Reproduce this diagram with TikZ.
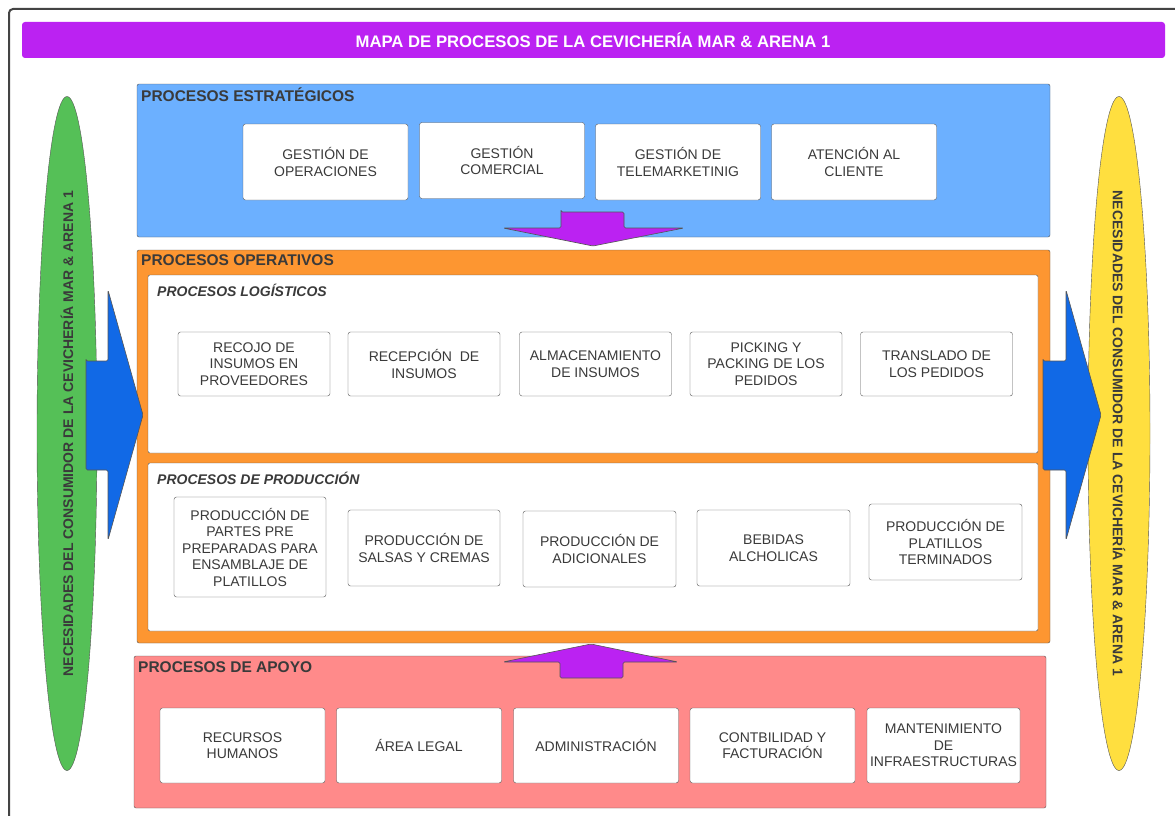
\documentclass[tikz,border=0pt]{standalone}
\usepackage{fontspec}
\setmainfont{Liberation Sans}
\usepackage{tkz-euclide}
\usetikzlibrary{shapes.geometric}
\definecolor{morado}{HTML}{BB22F2}
\definecolor{celeste}{HTML}{6CB0FF}
\definecolor{naranja}{HTML}{FD9631}
\definecolor{rosado}{HTML}{FF8A8A}
\definecolor{verde}{HTML}{55C057}
\definecolor{amarillo}{HTML}{FFDF3F}
\definecolor{azul}{HTML}{1169E6}
\definecolor{borde}{HTML}{555555}
\definecolor{texto}{HTML}{3A3A3A}

\begin{document}
\begin{tikzpicture}[x=1pt, y=-1pt,
    caja/.style={draw=borde, fill=white, rounded corners=2.5pt, align=center, inner sep=1pt,
      text=texto, font=\fontsize{14}{16.5}\selectfont},
    area/.style={draw=borde, rounded corners=2pt},
    rotulo/.style={anchor=west, inner sep=0pt, text=texto, font=\fontsize{15.5}{17}\selectfont\bfseries},
    subrotulo/.style={anchor=west, inner sep=0pt, text=texto, font=\fontsize{14}{16}\selectfont\bfseries\itshape},
    flecha/.style={draw=borde, line width=0.6pt, rounded corners=1.5pt}]
    \useasboundingbox (0,0) rectangle (1175,816);
    \draw[line width=2pt, draw=borde!80!black, rounded corners=4pt] (9,9) rectangle (1190,840);

    % titulo
    \fill[morado, rounded corners=3pt] (22,22) rectangle (1165,58);
    \node[text=white, font=\fontsize{16.7}{18}\selectfont\bfseries] (titulo) at (593,40)
      {MAPA DE PROCESOS DE LA CEVICHERÍA MAR \& ARENA 1};

    % necesidades
    \node[ellipse, draw=borde, fill=verde, minimum width=60pt, minimum height=674pt] (entrada) at (67,433.5) {};
    \node[rotate=90, text=texto, font=\fontsize{14}{16}\selectfont\bfseries] (txtentrada) at (entrada.center)
      {NECESIDADES DEL CONSUMIDOR DE LA CEVICHERÍA MAR \& ARENA 1};
    \node[ellipse, draw=borde, fill=amarillo, minimum width=62pt, minimum height=674pt] (salida) at (1119,433.5) {};
    \node[rotate=-90, text=texto, font=\fontsize{14}{16}\selectfont\bfseries] (txtsalida) at (salida.center)
      {NECESIDADES DEL CONSUMIDOR DE LA CEVICHERÍA MAR \& ARENA 1};

    % estrategicos
    \draw[area, fill=celeste] (137,84) rectangle (1050,237);
    \node[rotulo] (estr) at (141,95) {PROCESOS ESTRATÉGICOS};
    \node[caja, minimum width=165pt, minimum height=76pt] (gop) at (325.5,162) {GESTIÓN DE\\OPERACIONES};
    \node[caja, minimum width=165pt, minimum height=76pt] (gcom) at (502,160.5) {GESTIÓN\\COMERCIAL};
    \node[caja, minimum width=165pt, minimum height=76pt] (gtel) at (678,162) {GESTIÓN DE\\TELEMARKETINIG};
    \node[caja, minimum width=165pt, minimum height=76pt] (acli) at (854,162) {ATENCIÓN AL\\CLIENTE};

    % operativos
    \draw[area, fill=naranja] (137,250) rectangle (1050,643);
    \node[rotulo] (oper) at (141,260) {PROCESOS OPERATIVOS};
    \draw[area, fill=white] (148,275) rectangle (1038,453);
    \node[subrotulo] (logi) at (157,290) {PROCESOS LOGÍSTICOS};
    \node[caja, minimum width=152pt, minimum height=64pt] (rec) at (254,364) {RECOJO DE\\INSUMOS EN\\PROVEEDORES};
    \node[caja, minimum width=152pt, minimum height=64pt] (recp) at (424,364) {RECEPCIÓN \ DE\\INSUMOS};
    \node[caja, minimum width=152pt, minimum height=64pt] (alm) at (595.5,364) {ALMACENAMIENTO\\DE INSUMOS};
    \node[caja, minimum width=152pt, minimum height=64pt] (pick) at (766,364) {PICKING Y\\PACKING DE LOS\\PEDIDOS};
    \node[caja, minimum width=152pt, minimum height=64pt] (tras) at (936.5,364) {TRANSLADO DE\\LOS PEDIDOS};

    \draw[area, fill=white] (148,463) rectangle (1038,631);
    \node[subrotulo] (prod) at (157,478) {PROCESOS DE PRODUCCIÓN};
    \node[caja, minimum width=152pt, minimum height=100pt] (pre) at (250,547)
      {PRODUCCIÓN DE\\PARTES PRE\\PREPARADAS PARA\\ENSAMBLAJE DE\\PLATILLOS};
    \node[caja, minimum width=152pt, minimum height=76pt] (sal) at (424,548) {PRODUCCIÓN DE\\SALSAS Y CREMAS};
    \node[caja, minimum width=153pt, minimum height=76pt] (adi) at (599.5,549) {PRODUCCIÓN DE\\ADICIONALES};
    \node[caja, minimum width=153pt, minimum height=76pt] (beb) at (773.5,548) {BEBIDAS\\ALCHOLICAS};
    \node[caja, minimum width=153pt, minimum height=76pt] (pla) at (945.5,542) {PRODUCCIÓN DE\\PLATILLOS\\TERMINADOS};

    % apoyo
    \draw[area, fill=rosado] (134,656) rectangle (1046,808);
    \node[rotulo] (apoyo) at (138,667) {PROCESOS DE APOYO};
    \node[caja, minimum width=165pt, minimum height=75pt] (rrhh) at (242.5,745.5) {RECURSOS\\HUMANOS};
    \node[caja, minimum width=165pt, minimum height=75pt] (leg) at (419,745.5) {ÁREA LEGAL};
    \node[caja, minimum width=165pt, minimum height=75pt] (adm) at (596,745.5) {ADMINISTRACIÓN};
    \node[caja, minimum width=165pt, minimum height=75pt] (cont) at (772.5,745.5) {CONTBILIDAD Y\\FACTURACIÓN};
    \node[caja, minimum width=153pt, minimum height=75pt] (mant) at (943.5,745.5) {MANTENIMIENTO\\DE\\INFRAESTRUCTURAS};

    % flechas
    \tkzDefPoints{561/212/a,624/212/b,624/228/c,684/228/d,593/246/e,503/228/f,561/228/g}
    \tkzDrawPolygon[flecha, fill=morado](a,b,c,d,e,f,g)
    \tkzDefPoints{560/678/h,623/678/i,623/662/j,678/662/k,591/644/l,503/662/m,560/662/n}
    \tkzDrawPolygon[flecha, fill=morado](h,i,j,k,l,m,n)
    \tkzDefPoints{86/361/p,108/361/q,108/290/r,143/415/s,108/540/t,108/470/u,86/470/v}
    \tkzDrawPolygon[flecha, fill=azul](p,q,r,s,t,u,v)
    \tkzDefPoints{1043/361/P,1066/361/Q,1066/290/R,1101/415/S,1066/540/T,1066/470/U,1043/470/V}
    \tkzDrawPolygon[flecha, fill=azul](P,Q,R,S,T,U,V)
\end{tikzpicture}
\end{document}
